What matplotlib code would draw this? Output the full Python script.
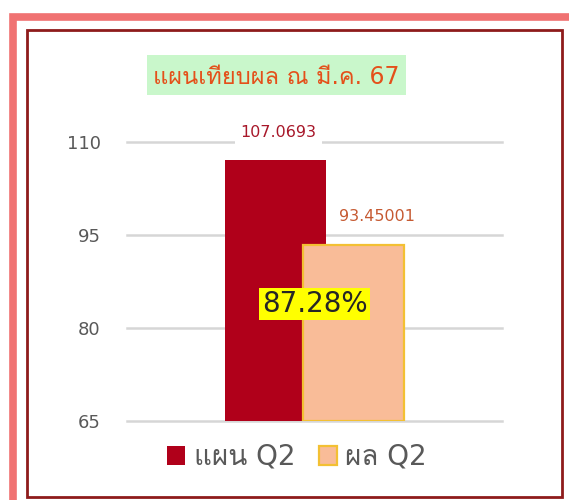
import matplotlib
matplotlib.use("Agg")
import matplotlib.pyplot as plt
from matplotlib import font_manager
from matplotlib.ft2font import FT2Font
from matplotlib.patches import Rectangle

# ---- data ----
title = "แผนเทียบผล ณ มี.ค. 67"
series_names = ["แผน Q2", "ผล Q2"]
series_values = [107.0693, 93.45001]
value_labels = ["107.0693", "93.45001"]
y_ticks = [65, 80, 95, 110]


def find_thai_font():
    for f in font_manager.fontManager.ttflist:
        try:
            cm = FT2Font(f.fname).get_charmap()
        except Exception:
            continue
        if 0x0E1C in cm and 0x0E41 in cm and 0x0E19 in cm:
            return f.name
    return None


thai = find_thai_font()
fam = ["DejaVu Sans"] + ([thai] if thai else [])
plt.rcParams["font.family"] = fam

W, H = 569, 500
fig = plt.figure(figsize=(W / 100, H / 100), dpi=100)
fig.patch.set_facecolor("white")


def px_rect(x0, y0, x1, y1, **kw):
    r = Rectangle((x0 / W, 1 - y1 / H), (x1 - x0) / W, (y1 - y0) / H,
                  transform=fig.transFigure, **kw)
    fig.patches.append(r)
    return r


# outer pink frame and inner dark red frame
px_rect(13, 16.5, 600, 540, fill=False, edgecolor="#F07272", linewidth=5.5)
px_rect(27, 30, 561.5, 496.5, fill=False, edgecolor="#8E1B1B", linewidth=2)

# title box
px_rect(147, 55, 406, 95, facecolor="#C9F7CB", edgecolor="none")
fig.text(276.5 / W, 1 - 77 / H, title, ha="center", va="center",
         fontsize=17, color="#E4501A", family=fam)

# axes
ax = fig.add_axes([127 / W, 1 - 421 / H, 375 / W, 279 / H])
ax.set_xlim(-0.5, 0.5)
ax.set_ylim(65, 110)
ax.set_yticks(y_ticks)
ax.set_yticklabels([str(t) for t in y_ticks])
ax.tick_params(axis="y", length=0, pad=19, labelsize=13, labelcolor="#595959")
ax.tick_params(axis="x", length=0, labelbottom=False)
for s in ax.spines.values():
    s.set_visible(False)
ax.grid(axis="y", color="#D6D6D6", linewidth=1.8)
for gl in ax.get_ygridlines():
    gl.set_clip_on(False)
ax.set_axisbelow(True)
ax.set_facecolor("none")

width = 0.267
offsets = [-0.104, 0.104]
b1 = ax.bar(offsets[0], series_values[0] - 65, bottom=65, width=width,
            color="#B0001A", edgecolor="none", label=series_names[0], zorder=2)
b2 = ax.bar(offsets[1], series_values[1] - 65, bottom=65, width=width,
            color="#F9BC98", edgecolor="#F3C033", linewidth=1.6,
            label=series_names[1], zorder=3)

label_colors = ["#A8182A", "#C65A32"]
label_dx = [2, 17]
for i in range(2):
    t = ax.annotate(value_labels[i], (offsets[i], series_values[i]),
                    xytext=(label_dx[i], 20), textcoords="offset points",
                    ha="center", va="center", fontsize=11.5,
                    color=label_colors[i], annotation_clip=False, zorder=5)
    if i == 0:
        t.set_bbox(dict(facecolor="white", edgecolor="none", pad=4))

pct = series_values[1] / series_values[0] * 100
ax.text(0.5, 0.42, f"{pct:.2f}%", transform=ax.transAxes, ha="center",
        va="center", fontsize=20, color="#262626", zorder=6,
        bbox=dict(boxstyle="square,pad=0.08", facecolor="#FFFF00",
                  edgecolor="none"))

leg = fig.legend(handles=[b1, b2], labels=series_names, loc="center",
                 bbox_to_anchor=(297 / W, 1 - 457 / H), ncol=2, frameon=False,
                 handlelength=0.65, handleheight=0.65,
                 handletextpad=0.3, columnspacing=0.85, labelcolor="#595959",
                 prop={"family": fam, "size": 20})

fig.savefig("out.png", dpi=100)
